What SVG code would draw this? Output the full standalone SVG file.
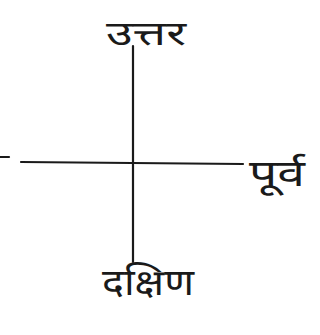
<svg xmlns="http://www.w3.org/2000/svg" width="320" height="335" viewBox="0 0 320 335">
<style>
.l{stroke:#1a1a1a;stroke-width:2.2;stroke-linecap:round;fill:none}
.t{font-family:"Noto Sans Devanagari","Noto Sans","DejaVu Sans",sans-serif;font-size:34px;fill:#1a1a1a}
</style>
<rect width="320" height="335" fill="#fff"/>
<g id="connectors">
<line class="l" x1="133" y1="46" x2="133" y2="262"/>
<line class="l" x1="21" y1="162" x2="243" y2="164"/>
<line class="l" x1="0" y1="157" x2="9" y2="157"/>
</g>
<g id="north"><text class="t" x="106" y="45" textLength="80" lengthAdjust="spacingAndGlyphs">उत्तर</text></g>
<g id="east"><text class="t" x="249" y="186" style="font-size:36px" textLength="56" lengthAdjust="spacingAndGlyphs">पूर्व</text></g>
<g id="south"><text class="t" x="102" y="295" style="font-size:36px" textLength="92" lengthAdjust="spacingAndGlyphs">दक्षिण</text></g>
</svg>
